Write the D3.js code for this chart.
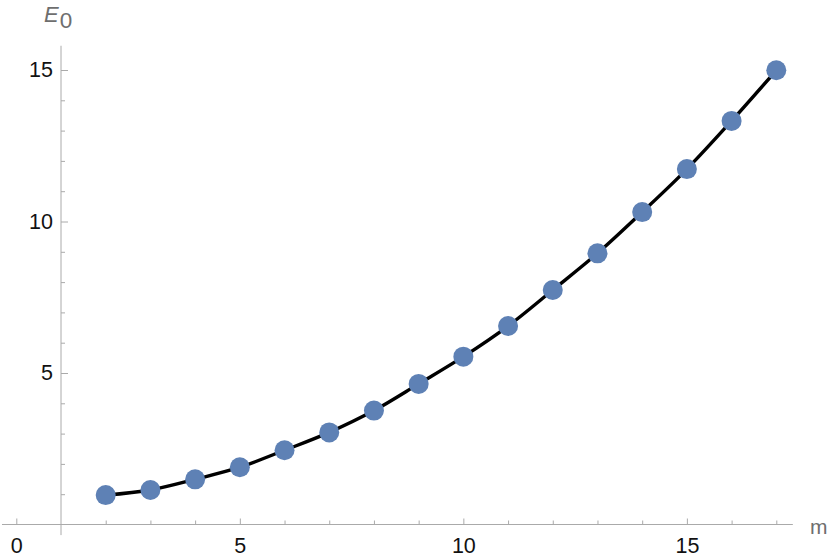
<!DOCTYPE html>
<html>
<head>
<meta charset="utf-8">
<script src="https://cdn.jsdelivr.net/npm/d3@7"></script>
<style>
  body { margin: 0; background: #fff; }
  svg { display: block; font-family: "Liberation Sans", Arial, sans-serif; }
</style>
</head>
<body>
<div id="chart"></div>
<script>
// data
var mValues = [2, 3, 4, 5, 6, 7, 8, 9, 10, 11, 12, 13, 14, 15, 16, 17];
var e0Values = [0.97, 1.14, 1.49, 1.89, 2.45, 3.04, 3.76, 4.64, 5.54, 6.55, 7.74, 8.95, 10.31, 11.73, 13.32, 14.99];
var xMajor = [0, 5, 10, 15];
var xMinor = [2, 3, 4, 6, 7, 8, 9, 11, 12, 13, 14, 16, 17];
var yMajor = [5, 10, 15];
var yMinor = [1, 2, 3, 4, 6, 7, 8, 9, 11, 12, 13, 14];

var width = 830, height = 560;
var axisColor = "#aaaaaa";
var labelColor = "#6e6e6e";

var svg = d3.select("#chart").append("svg")
  .attr("width", width)
  .attr("height", height);

var x = d3.scaleLinear().domain([0, 17]).range([16.3, 776.3]);
var y = d3.scaleLinear().domain([0, 15]).range([524.5, 70]);

var xAxisY = y(0);
var yAxisX = x(1);

// axis lines
svg.append("line")
  .attr("x1", x(-0.32)).attr("x2", x(17.37))
  .attr("y1", xAxisY).attr("y2", xAxisY)
  .attr("stroke", axisColor).attr("stroke-width", 1);
svg.append("line")
  .attr("x1", yAxisX).attr("x2", yAxisX)
  .attr("y1", y(-0.35)).attr("y2", y(15.8))
  .attr("stroke", axisColor).attr("stroke-width", 1);

// x ticks
var gx = svg.append("g").attr("transform", "translate(0," + xAxisY + ")");
gx.call(d3.axisBottom(x).tickValues(xMajor).tickSize(-6).tickPadding(13).tickFormat(d3.format("d")));
var gxm = svg.append("g").attr("transform", "translate(0," + xAxisY + ")");
gxm.call(d3.axisBottom(x).tickValues(xMinor).tickSize(-4).tickFormat(""));

// y ticks
var gy = svg.append("g").attr("transform", "translate(" + yAxisX + ",0)");
gy.call(d3.axisLeft(y).tickValues(yMajor).tickSize(-7).tickPadding(8).tickFormat(d3.format("d")));
var gym = svg.append("g").attr("transform", "translate(" + yAxisX + ",0)");
gym.call(d3.axisLeft(y).tickValues(yMinor).tickSize(-4).tickFormat(""));

svg.selectAll(".domain").remove();
svg.selectAll(".tick line").attr("stroke", axisColor);
svg.selectAll(".tick text")
  .attr("fill", "#111")
  .style("font-size", "21.5px")
  .style("font-family", "'Liberation Sans', Arial, sans-serif");

// axis labels
var yl = svg.append("text")
  .attr("x", 44).attr("y", 22)
  .attr("fill", labelColor)
  .style("font-size", "22px");
yl.append("tspan").style("font-style", "italic").text("E");
yl.append("tspan").attr("dy", 6).attr("dx", 1).style("font-size", "22.5px").text("0");

svg.append("text")
  .attr("x", 810).attr("y", 534)
  .attr("fill", labelColor)
  .style("font-size", "21px")
  .text("m");

// curve
var points = mValues.map(function(m, i) { return [m, e0Values[i]]; });
var line = d3.line()
  .x(function(d) { return x(d[0]); })
  .y(function(d) { return y(d[1]); })
  .curve(d3.curveMonotoneX);

svg.append("path")
  .datum(points)
  .attr("d", line)
  .attr("fill", "none")
  .attr("stroke", "#000")
  .attr("stroke-width", 3.4);

svg.selectAll(".pt")
  .data(points)
  .enter()
  .append("circle")
  .attr("class", "pt")
  .attr("cx", function(d) { return x(d[0]); })
  .attr("cy", function(d) { return y(d[1]); })
  .attr("r", 10)
  .attr("fill", "#5e81b5");
</script>
</body>
</html>
